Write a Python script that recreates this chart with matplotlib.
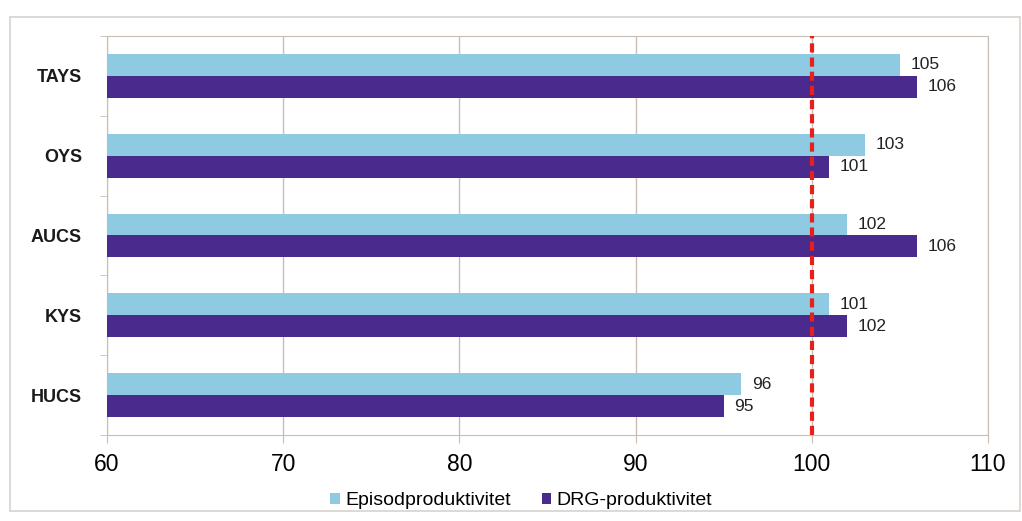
import numpy as np
import matplotlib.pyplot as plt
from matplotlib.patches import Rectangle

plt.rcParams['font.family'] = ['Liberation Sans', 'DejaVu Sans']

# data
categories = ['TAYS', 'OYS', 'AUCS', 'KYS', 'HUCS']
episod = [105, 103, 102, 101, 96]
drg = [106, 101, 106, 102, 95]

light = '#8fcae3'
dark = '#4a2a8c'
gridc = '#c9bdb4'

fig = plt.figure(figsize=(10.22, 5.21), dpi=100)
ax = fig.add_axes([0.1047, 0.165, 0.862, 0.766])

# outer frame
fig.patches.append(Rectangle((0.01, 0.02), 0.988, 0.947, transform=fig.transFigure,
                             fill=False, edgecolor='#d8d2cc', lw=1.2))

y = np.arange(len(categories))
h = 0.275
b1 = ax.barh(y - h / 2, [v - 60 for v in episod], left=60, height=h, color=light, zorder=3)
b2 = ax.barh(y + h / 2, [v - 60 for v in drg], left=60, height=h, color=dark, zorder=3)

for i in range(len(categories)):
    ax.text(episod[i] + 0.6, y[i] - h / 2, str(episod[i]), va='center', ha='left',
            fontsize=12.5, color='#222222', zorder=4)
    ax.text(drg[i] + 0.6, y[i] + h / 2, str(drg[i]), va='center', ha='left',
            fontsize=12.5, color='#222222', zorder=4)

ax.axvline(100, color='#e8201c', lw=3, ls=(0, (2.2, 1.2)), zorder=5)

ax.set_xlim(60, 110)
ax.set_ylim(4.5, -0.5)
ax.set_xticks([60, 70, 80, 90, 100, 110])
ax.tick_params(axis='x', labelsize=16.5, length=6, color=gridc, pad=7)

ax.set_yticks(y)
ax.set_yticklabels(categories, fontsize=13, fontweight='bold', color='#1a1a1a')
ax.set_yticks(np.arange(-0.5, 5, 1), minor=True)
ax.tick_params(axis='y', which='major', length=0, pad=18)
ax.tick_params(axis='y', which='minor', length=5, color=gridc)

ax.grid(axis='x', color=gridc, lw=1, zorder=0)
for s in ax.spines.values():
    s.set_color(gridc)

ax.legend([b1, b2], ['Episodproduktivitet', 'DRG-produktivitet'], loc='upper center',
          bbox_to_anchor=(0.47, -0.1), ncol=2, frameon=False, fontsize=14,
          handlelength=0.5, handleheight=0.5, handletextpad=0.25, columnspacing=1.6)

fig.savefig('out.png', dpi=100)
